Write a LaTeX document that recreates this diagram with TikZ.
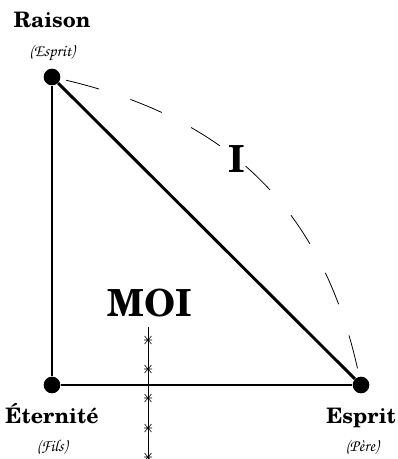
\documentclass[tikz,border=0pt]{standalone}
\usepackage{fontspec}
\setmainfont{TeX Gyre Schola}
\newfontfamily\scrfont{TeX Gyre Chorus}
\begin{document}
\begin{tikzpicture}[x=0.75pt,y=-0.75pt,
  dot/.style={circle,fill=black,inner sep=0pt,minimum size=12.5pt},
  edge/.style={line width=2.2pt},
  lbl/.style={font=\bfseries\fontsize{16}{18}\selectfont, inner sep=0pt, anchor=base},
  sub/.style={font=\scrfont\fontsize{12.5}{14}\selectfont, inner sep=0pt},
  big/.style={font=\bfseries\fontsize{28}{30}\selectfont, inner sep=0pt, anchor=base},
  arcline/.style={line width=0.6pt, dash pattern=on 25.5pt off 24.75pt, dash phase=45.75pt},
  axis/.style={line width=0.75pt},
  starmark/.style={line width=0.45pt}
]
\useasboundingbox (0,0) rectangle (398,459);
% vertices
\node[dot] (R) at (52,77) {};
\node[dot] (E) at (52,385) {};
\node[dot] (S) at (361,385) {};
% triangle
\draw[edge] (R) -- (E);
\draw[edge] (E) -- (S);
\draw[edge] (S) -- (R);
% dashed arc
\draw[arcline] (R) .. controls (205.7,112) and (320.3,189) .. (S);
% labels
\node[lbl] (lR) at (52,28) {Raison};
\node[sub] (sR) at (52,53) {(Esprit)};
\node[lbl] (lE) at (52,423) {Éternité};
\node[sub] (sE) at (52,447) {(Fils)};
\node[lbl] (lS) at (361,423) {Esprit};
\node[sub] (sS) at (362,447) {(Père)};
\node[big] (lI) at (237,173) {I};
\node[big] (lM) at (150,316) {MOI};
% vertical marked line
\coordinate (mt) at (148,327);
\coordinate (mb) at (148,459);
\draw[axis] (mt) -- (mb);
\foreach \y in {340,369,398,428,457}{
  \draw[starmark] (148,\y) +(-4,0) -- +(4,0)
                  (148,\y) +(-3.5,-4) -- +(3.5,4)
                  (148,\y) +(-3.5,4) -- +(3.5,-4);
}
\end{tikzpicture}
\end{document}
